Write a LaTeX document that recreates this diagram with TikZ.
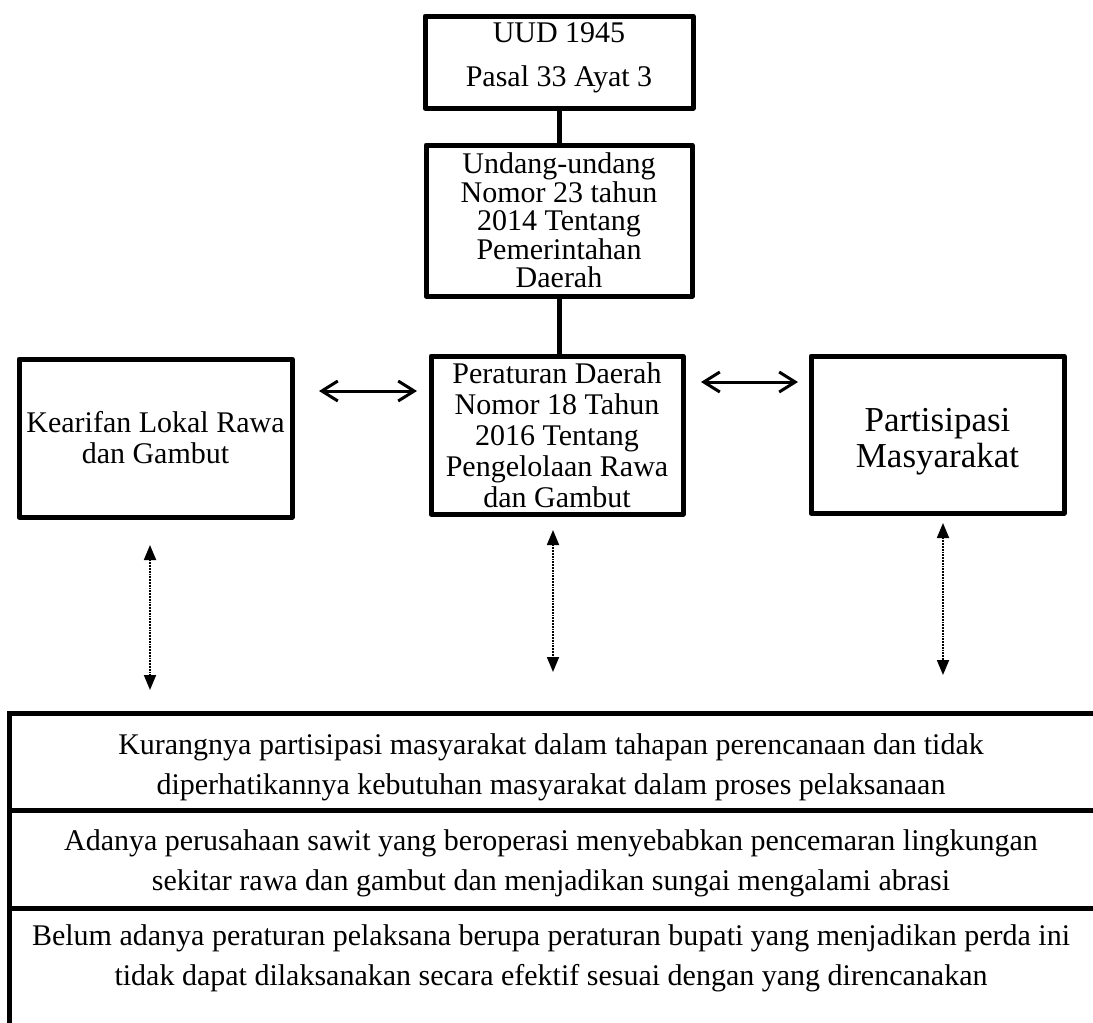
\documentclass[tikz,border=0pt]{standalone}
\usepackage{fontspec}
\setmainfont{Liberation Serif}
\usetikzlibrary{arrows.meta}
\tikzset{
  box/.style={draw, line width=5pt, inner sep=0pt, align=center, line join=round,
    font=\fontsize{30}{31}\selectfont},
  label text/.style={inner sep=0pt, align=center},
  rowtext/.style={inner sep=0pt, align=center, font=\fontsize{30}{40}\selectfont},
  solidarrow/.style={line width=3pt, {Straight Barb[length=16pt,width=20pt,line width=3pt]}-{Straight Barb[length=16pt,width=20pt,line width=3pt]}},
  dotarrow/.style={line width=1.8pt, densely dotted, {Triangle[length=15pt,width=12pt]}-{Triangle[length=15pt,width=12pt]}},
  link/.style={line width=5pt},
  frame/.style={line width=5pt}
}
\begin{document}
\begin{tikzpicture}[x=1pt,y=-1pt]
\useasboundingbox (0,0) rectangle (1093,1023);
% boxes
\node[box, minimum width=268pt, minimum height=92pt] (uud) at (559,62) {};
\node[label text, font=\fontsize{30}{44}\selectfont] (uudtext) at (559,58) {UUD 1945\\Pasal 33 Ayat 3};
\node[box, minimum width=266pt, minimum height=151pt, font=\fontsize{30}{28.5}\selectfont] (uu) at (559,220.5) {Undang-undang\\Nomor 23 tahun\\2014 Tentang\\Pemerintahan\\Daerah};
\node[box, minimum width=252pt, minimum height=158pt] (perda) at (557,435) {Peraturan Daerah\\Nomor 18 Tahun\\2016 Tentang\\Pengelolaan Rawa\\dan Gambut};
\node[box, minimum width=273pt, minimum height=158pt] (kear) at (155.5,438) {Kearifan Lokal Rawa\\dan Gambut};
\node[box, minimum width=253pt, minimum height=157pt] (part) at (937.5,434.5) {};
\node[label text, font=\fontsize{35}{36}\selectfont] (parttext) at (937.5,442) {Partisipasi\\Masyarakat};
% vertical links
\draw[link] (uud.south) -- (uu.north);
\draw[link] (uu.south) -- (uu.south |- perda.north);
% solid double arrows
\coordinate (la1) at (319,391);
\coordinate (la2) at (417,391);
\coordinate (ra1) at (701,382);
\coordinate (ra2) at (798,382);
\draw[solidarrow] (la1) -- (la2);
\draw[solidarrow] (ra1) -- (ra2);
% dotted arrows
\coordinate (d1a) at (150,545);
\coordinate (d1b) at (150,690);
\coordinate (d2a) at (553,530);
\coordinate (d2b) at (553,672);
\coordinate (d3a) at (943,523);
\coordinate (d3b) at (943,675);
\draw[dotarrow] (d1a) -- (d1b);
\draw[dotarrow] (d2a) -- (d2b);
\draw[dotarrow] (d3a) -- (d3b);
% bottom frame
\coordinate (ftr) at (1093,713);
\coordinate (ftl) at (9,713);
\coordinate (fbl) at (9,1023);
\draw[frame] (ftr) -- (ftl) -- (fbl);
\coordinate (s1l) at (9,810);
\coordinate (s1r) at (1093,810);
\coordinate (s2l) at (9,908);
\coordinate (s2r) at (1093,908);
\draw[frame] (s1l) -- (s1r);
\draw[frame] (s2l) -- (s2r);
\node[rowtext] (r1) at (551,767) {Kurangnya partisipasi masyarakat dalam tahapan perencanaan dan tidak\\diperhatikannya kebutuhan masyarakat dalam proses pelaksanaan};
\node[rowtext] (r2) at (551,863) {Adanya perusahaan sawit yang beroperasi menyebabkan pencemaran lingkungan\\sekitar rawa dan gambut dan menjadikan sungai mengalami abrasi};
\node[rowtext] (r3) at (551,958) {Belum adanya peraturan pelaksana berupa peraturan bupati yang menjadikan perda ini\\tidak dapat dilaksanakan secara efektif sesuai dengan yang direncanakan};
\end{tikzpicture}
\end{document}
